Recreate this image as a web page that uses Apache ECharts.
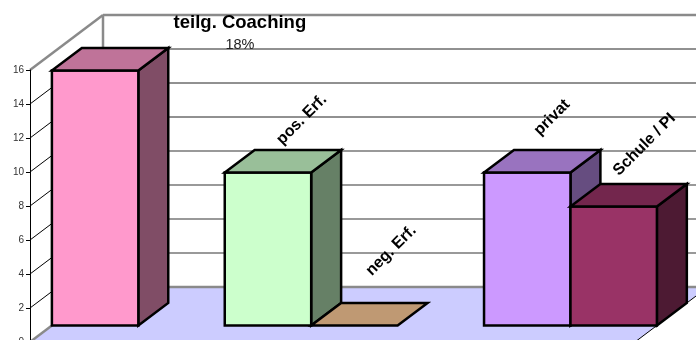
<!DOCTYPE html>
<html>
<head>
<meta charset="utf-8">
<style>html,body{margin:0;padding:0;background:#fff;overflow:hidden}#c{width:696px;height:340px}</style>
<script src="https://cdn.jsdelivr.net/npm/echarts@6/dist/echarts.min.js"></script>
</head>
<body>
<div id="c"></div>
<script>
var categories = ['teilg. Coaching', '', 'pos. Erf.', 'neg. Erf.', '', 'privat', 'Schule / PI'];
var values = [15, null, 9, 0, null, 9, 7];
var subLabels = ['18%', '', '', '', '', '', ''];
var frontColors = ['#FF99CC', null, '#CCFFCC', '#FFCC99', null, '#CC99FF', '#993366'];
var topColors = ['#BF7399', null, '#99BF99', '#BF9973', null, '#9973BF', '#73264D'];
var sideColors = ['#804D66', null, '#668066', '#80664D', null, '#664D80', '#4D1A33'];
var yTicks = [0, 2, 4, 6, 8, 10, 12, 14, 16];
var yMax = 16;

// 3D projection of the depth axis, in pixels
var DX = 73, DY = -55;
var BAR_D0 = 0.3, BAR_D1 = 0.71;

function poly(pts, fill, stroke, lw) {
  return { type: 'polygon', shape: { points: pts },
    style: { fill: fill, stroke: stroke || 'none', lineWidth: lw || 0, lineJoin: 'miter' } };
}
function line(a, b, color, w) {
  return { type: 'line', shape: { x1: a[0], y1: a[1], x2: b[0], y2: b[1] },
    style: { stroke: color, lineWidth: w, fill: 'none' } };
}
function shift(p, d) { return [p[0] + DX * d, p[1] + DY * d]; }

function renderWalls(params, api) {
  var hw = api.size([1, 0])[0] / 2;
  var n = categories.length;
  var fl = api.coord([0, 0]); fl = [fl[0] - hw, fl[1]];
  var fr = api.coord([n - 1, 0]); fr = [fr[0] + hw, fr[1]];
  var tl = [fl[0], api.coord([0, yMax])[1]];
  var tr = [fr[0], tl[1]];
  var kids = [];
  kids.push(poly([fl, shift(fl, 1), shift(fr, 1), fr], '#CCCCFF'));
  kids.push(line(fr, shift(fr, 1), '#000', 1));
  yTicks.forEach(function (t) {
    if (t === 0 || t === yMax) return;
    var y = api.coord([0, t])[1];
    var a = [fl[0], y], b = shift(a, 1), c = [fr[0] + DX, y + DY];
    kids.push(line(a, b, '#000', 1));
    var dark = t > 8;
    kids.push(line(b, c, dark ? '#222' : '#777', dark ? 1 : 1.5));
  });
  kids.push(line(shift(fl, 1), shift(fr, 1), '#8a8a8a', 2.5));
  kids.push(line(shift(tl, 1), shift(tr, 1), '#8a8a8a', 2.5));
  kids.push(line(tl, shift(tl, 1), '#8a8a8a', 2.5));
  kids.push(line(fl, shift(fl, 1), '#8a8a8a', 2.5));
  kids.push(line(shift(fl, 1), shift(tl, 1), '#8a8a8a', 2.5));
  return { type: 'group', children: kids };
}

function renderBar(params, api) {
  var i = api.value(0), v = api.value(1);
  var hw = api.size([1, 0])[0] / 2;
  var cBase = api.coord([i, 0]), cTop = api.coord([i, v]);
  var L = cBase[0] - hw, R = cBase[0] + hw;
  var b0 = [L, cBase[1]], b1 = [R, cBase[1]], t0 = [L, cTop[1]], t1 = [R, cTop[1]];
  var f = [shift(b0, BAR_D0), shift(b1, BAR_D0), shift(t1, BAR_D0), shift(t0, BAR_D0)];
  var top = [shift(t0, BAR_D0), shift(t1, BAR_D0), shift(t1, BAR_D1), shift(t0, BAR_D1)];
  var side = [shift(b1, BAR_D0), shift(b1, BAR_D1), shift(t1, BAR_D1), shift(t1, BAR_D0)];
  var kids = [];
  if (v > 0) {
    kids.push(poly(side, sideColors[i], '#000', 2.5));
    kids.push(poly(f, frontColors[i], '#000', 2.5));
  }
  kids.push(poly(top, topColors[i], '#000', 2.5));
  return { type: 'group', children: kids };
}

// label anchor offsets relative to the top front-left corner of each bar
var labelOffsets = { 0: [188, -48], 2: [77, -53], 3: [80, -75], 5: [68, -55], 6: [74, -62] };

function renderLabel(params, api) {
  var i = api.value(0), v = api.value(1);
  var hw = api.size([1, 0])[0] / 2;
  var c = api.coord([i, v]);
  var p = shift([c[0] - hw, c[1]], BAR_D0);
  var o = labelOffsets[i];
  var x = p[0] + o[0], y = p[1] + o[1];
  var kids = [];
  if (i === 0) {
    kids.push({ type: 'text', x: x, y: y,
      style: { text: categories[i], font: 'bold 18.5px "Liberation Sans"', fill: '#000', align: 'center', verticalAlign: 'middle' } });
    kids.push({ type: 'text', x: x, y: y + 22,
      style: { text: subLabels[i], font: '14.5px "Liberation Sans"', fill: '#222', align: 'center', verticalAlign: 'middle' } });
  } else {
    kids.push({ type: 'text', x: x, y: y, rotation: Math.PI / 4,
      style: { text: categories[i], font: 'bold 16px "Liberation Sans"', fill: '#000', align: 'center', verticalAlign: 'middle' } });
  }
  return { type: 'group', children: kids };
}

var barData = [];
values.forEach(function (v, i) { if (v !== null) barData.push([i, v]); });

var chart = echarts.init(document.getElementById('c'), null, { renderer: 'canvas' });
chart.setOption({
  animation: false,
  backgroundColor: '#fff',
  grid: { left: 30, top: 70, width: 605, height: 272, outerBoundsMode: 'none' },
  xAxis: { type: 'category', data: categories, show: false, boundaryGap: true },
  yAxis: {
    type: 'value', min: 0, max: yMax, interval: 2, z: 5,
    splitLine: { show: false },
    axisLine: { show: true, lineStyle: { color: '#000', width: 1 } },
    axisTick: { show: true, length: 4, lineStyle: { color: '#000', width: 1 } },
    axisLabel: { fontFamily: 'Liberation Sans', fontSize: 10, color: '#333', margin: 6 }
  },
  series: [
    { type: 'custom', z: 1, clip: false, silent: true, renderItem: renderWalls, data: [[0, 0]], encode: { x: 0, y: 1 } },
    { type: 'custom', z: 2, clip: false, silent: true, renderItem: renderBar, data: barData, encode: { x: 0, y: 1 } },
    { type: 'custom', z: 3, clip: false, silent: true, renderItem: renderLabel, data: barData, encode: { x: 0, y: 1 } }
  ]
});
</script>
</body>
</html>
